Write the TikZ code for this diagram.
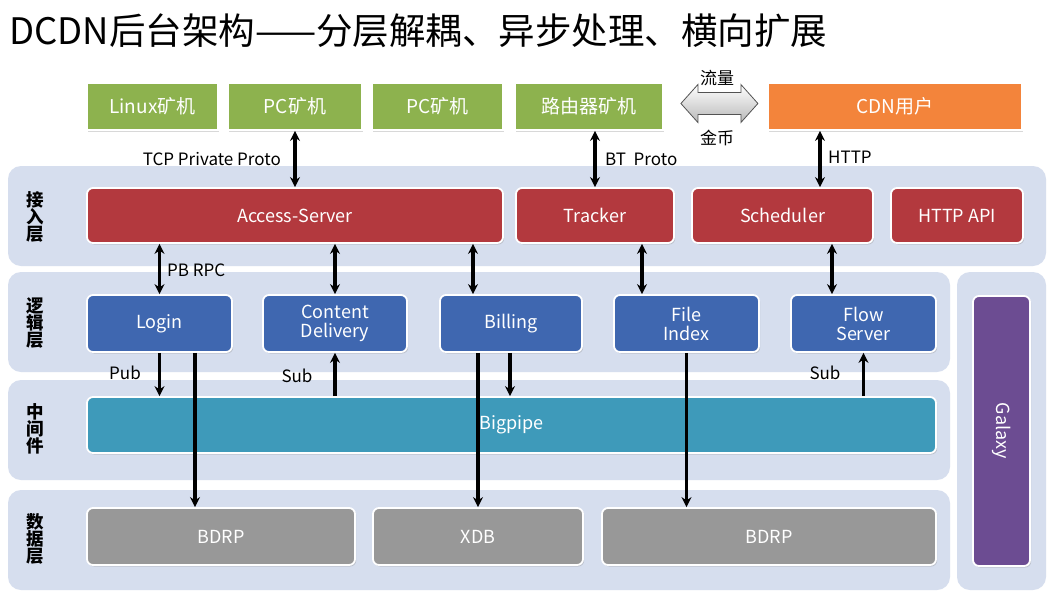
\documentclass[tikz,border=0pt]{standalone}
\usepackage{fontspec}
\setmainfont{Noto Sans CJK SC}
\usetikzlibrary{arrows.meta,shadows,calc}
\definecolor{bandc}{RGB}{214,222,238}
\definecolor{greenc}{RGB}{141,178,78}
\definecolor{orangec}{RGB}{243,132,59}
\definecolor{redc}{RGB}{179,57,62}
\definecolor{bluec}{RGB}{63,103,176}
\definecolor{tealc}{RGB}{62,154,186}
\definecolor{grayc}{RGB}{152,152,152}
\definecolor{purplec}{RGB}{108,76,146}
\newcommand\mkbox[7]{%
  \pgfmathsetmacro\bxw{#5-#3}%
  \pgfmathsetmacro\bxh{#6-#4}%
  \node[#2, minimum width=\bxw pt, minimum height=\bxh pt] (#1) at ({(#3+#5)/2},{(#4+#6)/2}) {#7};}
\begin{document}
\begin{tikzpicture}[x=1pt,y=-1pt,
  band/.style={fill=bandc, rounded corners=13pt, inner sep=0pt},
  box/.style={draw=white, line width=1.8pt, rounded corners=6pt, text=white,
    font=\fontsize{18}{21}\selectfont, align=center, inner sep=0pt,
    drop shadow={opacity=0.3, shadow xshift=1.2pt, shadow yshift=-1.5pt}},
  topbox/.style={box, rounded corners=0pt, font=\fontsize{19}{22}\selectfont},
  greenbox/.style={topbox, fill=greenc},
  orangebox/.style={topbox, fill=orangec},
  redbox/.style={box, fill=redc},
  bluebox/.style={box, fill=bluec},
  tealbox/.style={box, fill=tealc},
  graybox/.style={box, fill=grayc},
  purplebox/.style={box, fill=purplec},
  layerlbl/.style={font=\bfseries\fontsize{17.5}{17}\selectfont, align=center, inner sep=0pt},
  lbl/.style={font=\fontsize{17}{20}\selectfont, inner sep=0pt},
  dbl/.style={line width=3.3pt, {Stealth[length=10pt,width=10pt]}-{Stealth[length=10pt,width=10pt]}},
  one/.style={line width=3.3pt, -{Stealth[length=10pt,width=10pt]}}
]
\useasboundingbox[fill=white] (0,0) rectangle (1057,603);

% title
\node[anchor=west, inner sep=0pt, font=\fontsize{36.5}{40}\selectfont] (title) at (9,31) {DCDN后台架构——分层解耦、异步处理、横向扩展};

% bands
\mkbox{b1}{band}{8}{166}{1046}{266}{}
\mkbox{b2}{band}{8}{272}{950}{372}{}
\mkbox{b3}{band}{8}{380}{950}{480}{}
\mkbox{b4}{band}{8}{490}{950}{590}{}
\mkbox{b5}{band}{957}{272}{1046}{590}{}

% layer labels
\node[layerlbl] (l1) at (35,217) {接\\入\\层};
\node[layerlbl] (l2) at (35,323) {逻\\辑\\层};
\node[layerlbl] (l3) at (35,429) {中\\间\\件};
\node[layerlbl] (l4) at (35,539) {数\\据\\层};

% top row
\mkbox{linux}{greenbox}{87}{83}{218}{130}{Linux矿机}
\mkbox{pc1}{greenbox}{228}{83}{362}{130}{PC矿机}
\mkbox{pc2}{greenbox}{372}{83}{503}{130}{PC矿机}
\mkbox{router}{greenbox}{515}{83}{663}{130}{路由器矿机}
\mkbox{cdn}{orangebox}{768}{83}{1022}{130}{CDN用户}

% access layer
\mkbox{acc}{redbox}{87}{188}{503}{243}{Access-Server}
\mkbox{trk}{redbox}{516}{188}{674}{243}{Tracker}
\mkbox{sch}{redbox}{692}{188}{873}{243}{Scheduler}
\mkbox{api}{redbox}{891}{188}{1023}{243}{HTTP API}

% logic layer
\mkbox{login}{bluebox}{87}{295}{232}{352}{Login}
\mkbox{cd}{bluebox}{263}{295}{407}{352}{Content\\[-2pt]Delivery}
\mkbox{bill}{bluebox}{440}{295}{582}{352}{Billing}
\mkbox{fi}{bluebox}{614}{295}{759}{352}{File\\[-2pt]Index}
\mkbox{flow}{bluebox}{791}{295}{936}{352}{Flow\\[-2pt]Server}

% middleware
\mkbox{bp}{tealbox}{87}{397}{936}{453}{Bigpipe}

% data layer
\mkbox{bdrp1}{graybox}{87}{508}{355}{565}{BDRP}
\mkbox{xdb}{graybox}{373}{508}{583}{565}{XDB}
\mkbox{bdrp2}{graybox}{602}{508}{936}{565}{BDRP}

% galaxy
\mkbox{gal}{purplebox}{973}{296}{1030}{566}{}
\node[rotate=-90, text=white, font=\fontsize{18}{21}\selectfont, inner sep=0pt] (galt) at (gal.center) {Galaxy};

% block double arrow between router miners and CDN users
\shade[top color=white, bottom color=gray!55, draw=gray!65!black, line width=0.8pt]
  ($(router.east)+(17,-3)$) -- ++(17,-19) -- ++(0,8) -- ++(43,0) -- ++(0,-8) -- ++(17,19)
  -- ++(-17,19) -- ++(0,-8) -- ++(-43,0) -- ++(0,8) -- cycle;
\node[lbl] (liu) at (717,78) {流量};
\node[lbl] (jin) at (717,138) {金币};

% helper x positions
\coordinate (xh) at (820,0);
\coordinate (xb) at (473,0);
\coordinate (xf) at (642,0);
\coordinate (xs) at (832,0);
\coordinate (xd) at (195,0);
\coordinate (xp) at (510,0);

% connectors
\draw[dbl] (pc1.south) -- (acc.north -| pc1.south);
\draw[dbl] (router.south -| trk.north) -- (trk.north);
\draw[dbl] (cdn.south -| xh) -- (sch.north -| xh);
\draw[dbl] (acc.south -| login.north) -- (login.north);
\draw[dbl] (acc.south -| cd.north) -- (cd.north);
\draw[dbl] (acc.south -| xb) -- (bill.north -| xb);
\draw[dbl] (trk.south -| xf) -- (fi.north -| xf);
\draw[dbl] (sch.south -| xs) -- (flow.north -| xs);

\draw[one] (login.south) -- (bp.north -| login.south);
\draw[one] (login.south -| xd) -- (bdrp1.north -| xd);
\draw[one] (bp.north -| cd.south) -- (cd.south);
\draw[one] (bill.south -| xdb.north) -- (xdb.north);
\draw[one] (bill.south -| xp) -- (bp.north -| xp);
\draw[one] (fi.south) -- (bdrp2.north -| fi.south);
\draw[one] (bp.north -| flow.south) -- (flow.south);

% connector labels
\node[lbl, anchor=east] (tcp) at (281,159) {TCP Private Proto};
\node[lbl, anchor=west] (bt) at (605,159) {BT\ \ Proto};
\node[lbl, anchor=west] (http) at (828,157) {HTTP};
\node[lbl, anchor=west] (pbrpc) at (167,270) {PB RPC};
\node[lbl] (pub) at (125,373) {Pub};
\node[lbl] (sub1) at (297,376) {Sub};
\node[lbl] (sub2) at (825,373) {Sub};
\end{tikzpicture}
\end{document}
